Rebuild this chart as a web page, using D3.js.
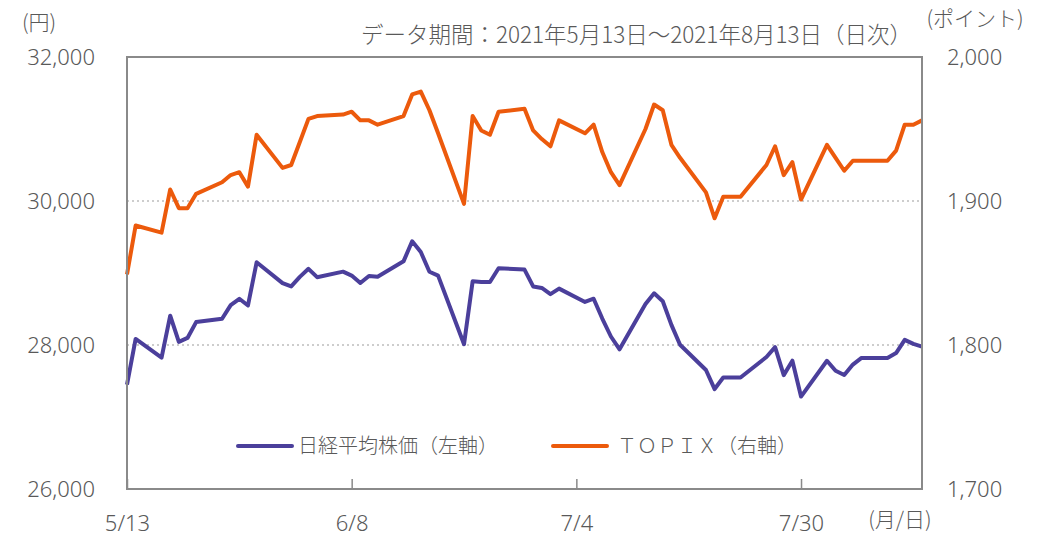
<!DOCTYPE html>
<html>
<head>
<meta charset="utf-8">
<script src="https://cdn.jsdelivr.net/npm/d3@7/dist/d3.min.js"></script>
<style>
  html, body { margin: 0; padding: 0; background: #fff; }
  svg { display: block; }
  text { font-family: "Noto Sans CJK JP", "Noto Sans", sans-serif; fill: #595959; font-weight: 300; }
</style>
</head>
<body>
<svg id="chart" width="1047" height="536"></svg>
<script>
const dates = [
  "2021-05-13","2021-05-14","2021-05-17","2021-05-18","2021-05-19","2021-05-20","2021-05-21","2021-05-24","2021-05-25","2021-05-26","2021-05-27","2021-05-28","2021-05-31",
  "2021-06-01","2021-06-02","2021-06-03","2021-06-04","2021-06-07","2021-06-08","2021-06-09","2021-06-10","2021-06-11","2021-06-14","2021-06-15","2021-06-16","2021-06-17","2021-06-18","2021-06-21","2021-06-22","2021-06-23","2021-06-24","2021-06-25","2021-06-28","2021-06-29","2021-06-30",
  "2021-07-01","2021-07-02","2021-07-05","2021-07-06","2021-07-07","2021-07-08","2021-07-09","2021-07-12","2021-07-13","2021-07-14","2021-07-15","2021-07-16","2021-07-19","2021-07-20","2021-07-21","2021-07-22","2021-07-23","2021-07-26","2021-07-27","2021-07-28","2021-07-29","2021-07-30",
  "2021-08-02","2021-08-03","2021-08-04","2021-08-05","2021-08-06","2021-08-09","2021-08-10","2021-08-11","2021-08-12","2021-08-13"
];
const nikkei = [
  27448, 28084, 27825, 28407, 28044, 28098, 28318, 28365, 28554, 28642, 28549, 29149, 28860,
  28814, 28946, 29058, 28942, 29019, 28964, 28861, 28959, 28949, 29162, 29441, 29291, 29018, 28964, 28011, 28884, 28875, 28875, 29066, 29048, 28813, 28792,
  28707, 28783, 28598, 28643, 28367, 28118, 27940, 28569, 28718, 28608, 28279, 28003, 27653, 27388, 27548, 27548, 27548, 27833, 27970, 27582, 27782, 27284,
  27781, 27642, 27584, 27728, 27820, 27820, 27888, 28071, 28015, 27977
];
const topix = [
  1849, 1883, 1878, 1908, 1895, 1895, 1905, 1913, 1918, 1920, 1910, 1946, 1923,
  1925, 1941, 1957, 1959, 1960, 1962, 1956, 1956, 1953, 1959, 1974, 1976, 1963, 1947, 1898, 1959, 1949, 1946, 1962, 1964, 1949, 1943,
  1938, 1956, 1947, 1953, 1934, 1920, 1911, 1950, 1967, 1963, 1939, 1930, 1906, 1888, 1903, 1903, 1903, 1925, 1938, 1918, 1927, 1901,
  1939, 1930, 1921, 1928, 1928, 1928, 1935, 1953, 1953, 1956
];
const leftTicks = [26000, 28000, 30000, 32000];
const rightTicks = [1700, 1800, 1900, 2000];
const xTickDates = ["2021-05-13","2021-06-08","2021-07-04","2021-07-30"];
const xDomain = ["2021-05-13","2021-08-13"];
const seriesNames = ["日経平均株価（左軸）", "ＴＯＰＩＸ（右軸）"];
const titleText = "データ期間：2021年5月13日～2021年8月13日（日次）";

const parse = d3.utcParse("%Y-%m-%d");
const svg = d3.select("#chart");
const L = 127, R = 922, T = 57, B = 489;
const purple = "#4b3f9b", orange = "#ec5a0c", frame = "#8a8a8a";
const numFont = "'Noto Sans', 'Open Sans', sans-serif";

const x = d3.scaleUtc().domain(xDomain.map(parse)).range([L, R]);
const yL = d3.scaleLinear().domain([26000, 32000]).range([B, T]);
const yR = d3.scaleLinear().domain([1700, 2000]).range([B, T]);

// grid lines
svg.append("g").selectAll("line")
  .data([28000, 30000]).join("line")
  .attr("x1", L).attr("x2", R)
  .attr("y1", d => yL(d)).attr("y2", d => yL(d))
  .attr("stroke", "#bdbdbd").attr("stroke-width", 1.5)
  .attr("stroke-dasharray", "2,3");

// lines
const pts = dates.map((d, i) => ({ date: parse(d), n: nikkei[i], t: topix[i] }));
svg.append("path").datum(pts)
  .attr("fill", "none").attr("stroke", purple).attr("stroke-width", 4)
  .attr("stroke-linejoin", "round")
  .attr("d", d3.line().x(d => x(d.date)).y(d => yL(d.n)));
svg.append("path").datum(pts)
  .attr("fill", "none").attr("stroke", orange).attr("stroke-width", 4)
  .attr("stroke-linejoin", "round")
  .attr("d", d3.line().x(d => x(d.date)).y(d => yR(d.t)));

// frame
svg.append("rect").attr("x", L).attr("y", T).attr("width", R - L).attr("height", B - T)
  .attr("fill", "none").attr("stroke", frame).attr("stroke-width", 2);

// left axis labels
const leftAxis = d3.axisLeft(yL).tickValues(leftTicks).tickSize(0).tickPadding(32)
  .tickFormat(d3.format(","));
const gl = svg.append("g").attr("transform", `translate(${L},0)`).call(leftAxis);
gl.select(".domain").remove();
gl.selectAll("text").style("font-size", "22px").attr("fill", "#595959")
  .style("font-family", numFont).style("font-weight", 300);

// right axis labels
const rightAxis = d3.axisRight(yR).tickValues(rightTicks).tickSize(0).tickPadding(25)
  .tickFormat(d3.format(","));
const gr = svg.append("g").attr("transform", `translate(${R},0)`).call(rightAxis);
gr.select(".domain").remove();
gr.selectAll("text").style("font-size", "22px").attr("fill", "#595959")
  .style("font-family", numFont).style("font-weight", 300);

// x axis ticks (inward) and labels
const bottomAxis = d3.axisBottom(x).tickValues(xTickDates.map(parse))
  .tickSize(-10).tickPadding(26).tickFormat(d3.utcFormat("%-m/%-d"));
const gb = svg.append("g").attr("transform", `translate(0,${B})`).call(bottomAxis);
gb.select(".domain").remove();
gb.selectAll(".tick line").attr("stroke", frame).attr("stroke-width", 1.5);
gb.selectAll("text").style("font-size", "22px").attr("fill", "#595959")
  .style("font-family", numFont).style("font-weight", 300);

// unit labels
svg.append("text").attr("x", 39).attr("y", 30).attr("text-anchor", "middle")
  .style("font-size", "21px").text("(円)");
svg.append("text").attr("x", 975).attr("y", 26).attr("text-anchor", "middle")
  .style("font-size", "21px").text("(ポイント)");
svg.append("text").attr("x", 900).attr("y", 527).attr("text-anchor", "middle")
  .style("font-size", "21px").text("(月/日)");
svg.append("text").attr("x", 912).attr("y", 43).attr("text-anchor", "end")
  .style("font-size", "22.5px").text(titleText);

// legend
const legend = [
  { name: seriesNames[0], color: purple, x0: 238 },
  { name: seriesNames[1], color: orange, x0: 553 }
];
const lg = svg.append("g").selectAll("g").data(legend).join("g");
lg.append("line").attr("x1", d => d.x0).attr("x2", d => d.x0 + 54)
  .attr("y1", 446).attr("y2", 446).attr("stroke", d => d.color).attr("stroke-width", 4)
  .attr("stroke-linecap", "round");
lg.append("text").attr("x", (d, i) => d.x0 + 60 + i * 4).attr("y", 453)
  .style("font-size", "20px").text(d => d.name);
</script>
</body>
</html>
